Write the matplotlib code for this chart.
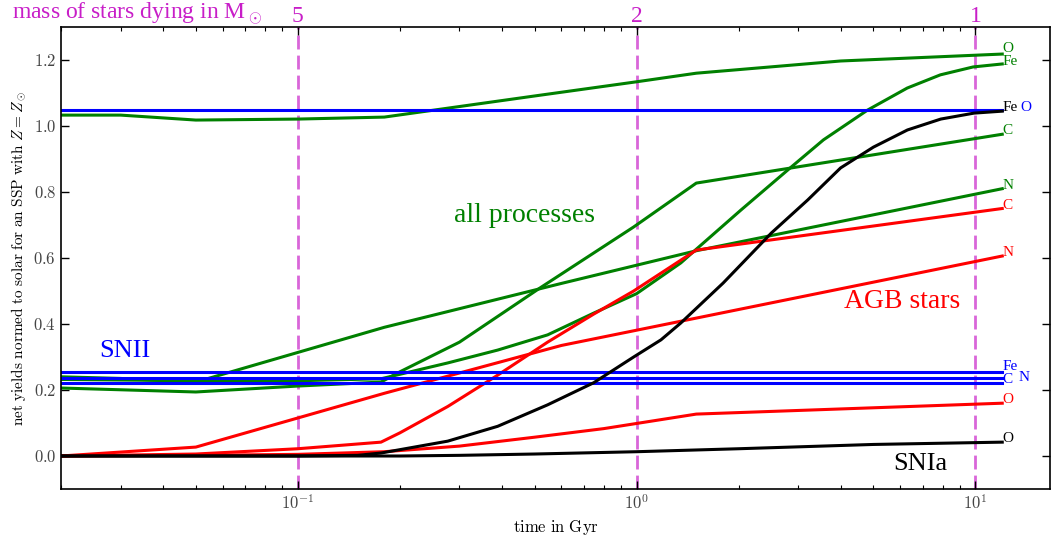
import numpy as np
import matplotlib
matplotlib.use("Agg")
import matplotlib.pyplot as plt
from matplotlib.ticker import FixedLocator, FuncFormatter, LogLocator, NullFormatter

plt.rcParams["font.family"] = ["Liberation Serif", "DejaVu Serif"]
plt.rcParams["mathtext.fontset"] = "cm"

# all processes (green), time in Gyr
all_O_t = [0.02, 0.03, 0.05, 0.1, 0.18, 0.3, 0.5, 1.0, 1.5, 4, 12]
all_O = [1.033, 1.033, 1.018, 1.021, 1.027, 1.059, 1.091, 1.134, 1.16, 1.197, 1.218]
all_Fe_t = [0.02, 0.05, 0.1, 0.176, 0.277, 0.389, 0.546, 0.747, 1.0, 1.35, 1.49, 2.03,
            2.84, 3.56, 4.8, 6.29, 7.88, 9.85, 12]
all_Fe = [0.232, 0.228, 0.228, 0.234, 0.282, 0.321, 0.367, 0.433, 0.492, 0.585, 0.624, 0.745,
          0.873, 0.958, 1.048, 1.115, 1.155, 1.179, 1.188]
all_C_t = [0.02, 0.05, 0.1, 0.176, 0.2, 0.3, 0.52, 0.98, 1.5, 12]
all_C = [0.206, 0.194, 0.212, 0.224, 0.255, 0.345, 0.51, 0.694, 0.827, 0.975]
all_N_t = [0.02, 0.03, 0.05, 0.18, 0.6, 1.5, 12]
all_N = [0.24, 0.235, 0.224, 0.39, 0.523, 0.622, 0.81]

# AGB stars (red)
agb_C_t = [0.02, 0.05, 0.1, 0.176, 0.2, 0.277, 0.389, 0.546, 0.747, 0.98, 1.5, 12]
agb_C = [0.0, 0.006, 0.022, 0.042, 0.07, 0.15, 0.245, 0.345, 0.43, 0.50, 0.624, 0.75]
agb_N_t = [0.02, 0.05, 0.18, 0.6, 12]
agb_N = [0.0, 0.027, 0.19, 0.335, 0.606]
agb_O_t = [0.02, 0.05, 0.1, 0.18, 0.3, 0.5, 0.8, 1.5, 12]
agb_O = [0.0, 0.002, 0.005, 0.013, 0.03, 0.057, 0.083, 0.127, 0.16]

# SNIa (black)
snia_Fe_t = [0.02, 0.1, 0.15, 0.176, 0.277, 0.389, 0.546, 0.747, 0.98, 1.18, 1.35, 1.8,
             2.5, 3.2, 4.0, 5.0, 6.3, 7.9, 9.9, 12]
snia_Fe = [0.0, 0.0, 0.002, 0.009, 0.045, 0.09, 0.155, 0.222, 0.30, 0.352, 0.403, 0.524,
           0.676, 0.776, 0.873, 0.936, 0.988, 1.021, 1.039, 1.045]
snia_O_t = [0.02, 0.2, 0.3, 0.5, 1.0, 2, 5, 12]
snia_O = [0.0, 0.0, 0.002, 0.006, 0.013, 0.022, 0.035, 0.042]

# SNII (blue), constant in time
snii_t = [0.02, 12]
snii_elements = ["O", "Fe", "N", "C"]
snii_values = [1.05, 0.255, 0.236, 0.222]

# dying star masses (Msun) and their lifetimes (Gyr)
mass_labels = ["5", "2", "1"]
mass_times = [0.1, 1.0, 10.0]

fig = plt.figure(figsize=(10.51, 5.40), dpi=100)
ax = fig.add_axes([61 / 1051, 51 / 540, 989 / 1051, 462 / 540])

lw = 2.2
for x in mass_times:
    ax.axvline(x, color="#d966d9", lw=2, ls=(0, (5, 2.2)), zorder=1)

ax.plot(all_O_t, all_O, color="green", lw=lw)
ax.plot(all_Fe_t, all_Fe, color="green", lw=lw)
ax.plot(all_C_t, all_C, color="green", lw=lw)
ax.plot(all_N_t, all_N, color="green", lw=lw)
ax.plot(agb_C_t, agb_C, color="red", lw=lw)
ax.plot(agb_N_t, agb_N, color="red", lw=lw)
ax.plot(agb_O_t, agb_O, color="red", lw=lw)
for v in snii_values:
    ax.plot(snii_t, [v, v], color="blue", lw=lw)
ax.plot(snia_Fe_t, snia_Fe, color="black", lw=lw)
ax.plot(snia_O_t, snia_O, color="black", lw=lw)


def end_label(tt, vv, s, c, dx=0, dy=0):
    ax.annotate(s, (tt[-1], vv[-1]), xytext=(dx, dy), textcoords="offset points",
                color=c, fontsize=11, ha="left", va="baseline")


end_label(all_O_t, all_O, "O", "green", dy=1.5)
end_label(all_Fe_t, all_Fe, "Fe", "green", dy=-1)
end_label(all_C_t, all_C, "C", "green")
end_label(all_N_t, all_N, "N", "green")
end_label(agb_C_t, agb_C, "C", "red")
end_label(agb_N_t, agb_N, "N", "red")
end_label(agb_O_t, agb_O, "O", "red")
end_label(snia_Fe_t, snia_Fe, "Fe", "black")
end_label(snia_O_t, snia_O, "O", "black")
snii_dx = {"O": 13, "Fe": 0, "N": 12, "C": 0}
snii_dy = {"O": -1, "Fe": 1, "N": -2, "C": 0}
for el, v in zip(snii_elements, snii_values):
    end_label(snii_t, [v], el, "blue", snii_dx[el], snii_dy[el])

# group labels
ax.text(0.289, 0.71, "all processes", color="green", fontsize=20)
ax.text(4.08, 0.45, "AGB stars", color="red", fontsize=20)
ax.text(0.0259, 0.30, "SNII", color="blue", fontsize=19)
ax.text(5.73, -0.042, "SNIa", color="black", fontsize=19)

mcol = "#c81ec8"
for x, s in zip(mass_times, mass_labels):
    ax.text(x, 1.011, s, color=mcol, fontsize=17, ha="center", va="baseline",
            transform=ax.get_xaxis_transform())
ax.text(-0.05, 1.017, r"mass of stars dying in M$_\odot$", color=mcol, fontsize=17,
        ha="left", va="baseline", transform=ax.transAxes)

ax.set_xscale("log")
ax.set_xlim(0.02, 16.6)
ax.set_ylim(-0.1, 1.3)
ax.xaxis.set_major_locator(FixedLocator([0.1, 1.0, 10.0]))
ax.xaxis.set_major_formatter(FuncFormatter(lambda v, p: r"$10^{%d}$" % round(np.log10(v))))
ax.xaxis.set_minor_locator(LogLocator(base=10, subs=np.arange(2, 10)))
ax.xaxis.set_minor_formatter(NullFormatter())
ax.yaxis.set_major_locator(FixedLocator(np.arange(0, 1.21, 0.2)))
ax.yaxis.set_major_formatter(FuncFormatter(lambda v, p: r"$%.1f$" % v))
ax.tick_params(which="both", direction="in", top=True, right=True, labelsize=12,
               labelcolor="#444444")
ax.tick_params(which="major", length=6, width=1)
ax.tick_params(which="minor", length=3, width=0.8)
for sp in ax.spines.values():
    sp.set_linewidth(1.2)

ax.set_xlabel(r"$\mathrm{time\ in\ Gyr}$", fontsize=12)
ax.set_ylabel(r"$\mathrm{net\ yields\ normed\ to\ solar\ for\ an\ SSP\ with\ }Z{=}Z_\odot$",
              fontsize=11)

fig.savefig("out.png", dpi=100)
